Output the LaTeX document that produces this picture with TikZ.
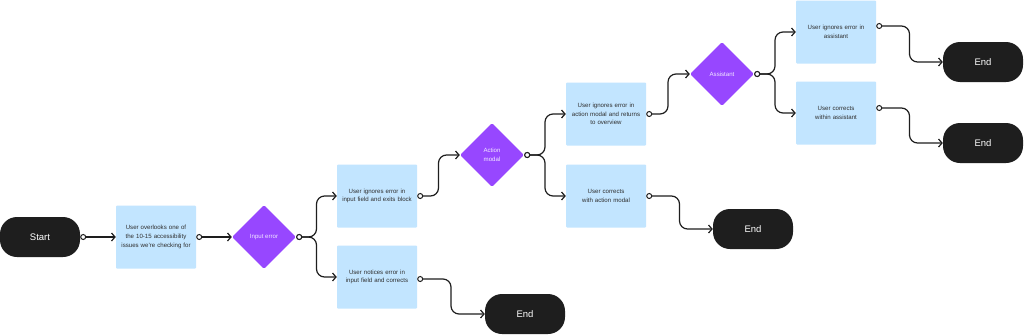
\documentclass[tikz,border=0pt]{standalone}
\usepackage{fontspec}
\setmainfont{Liberation Sans}
\usetikzlibrary{arrows.meta,positioning,calc,shapes.geometric}
\definecolor{taskblue}{HTML}{C2E5FF}
\definecolor{choicepurple}{HTML}{9747FF}
\definecolor{termblack}{HTML}{1E1E1E}
\definecolor{tasktext}{HTML}{2E2E2E}
\begin{document}
\begin{tikzpicture}[x=1pt,y=-1pt,
  term/.style={fill=termblack,rounded corners=17pt,minimum width=80pt,minimum height=40pt,text=white,font=\fontsize{9.5}{10}\selectfont},
  task/.style={fill=taskblue,rounded corners=1pt,minimum width=80pt,minimum height=63pt,text width=78pt,inner sep=1pt,align=center,text=tasktext,font=\fontsize{6.1}{8.8}\selectfont},
  choice/.style={diamond,aspect=1,fill=choicepurple,rounded corners=1.5pt,minimum width=64pt,minimum height=64pt,inner sep=0pt,align=center,text=white!88!choicepurple,font=\fontsize{6.1}{8.8}\selectfont},
  flow/.style={draw=termblack,line width=1.2pt,rounded corners=8pt,{Circle[open,fill=white,length=6pt,width=6pt,line width=1pt]}-{Straight Barb[length=3.5pt,width=8pt,line width=1.2pt]}}]
\useasboundingbox[fill=white] (0,0) rectangle (1024,335);
% nodes
\node[term] (start) at (40,237) {Start};
\node[task] (over) at (156,237) {User overlooks one of\\the 10-15 accessibility\\issues we’re checking for};
\node[choice] (input) at (264,237) {Input error};
\node[task] (ignfield) at (377,196) {User ignores error in\\input field and exits block};
\node[task] (fixfield) at (377,277) {User notices error in\\input field and corrects};
\node[term] (end1) at (525,314) {End};
\node[choice] (action) at (492,155) {Action\\modal};
\node[task] (ignmodal) at (606,114) {User ignores error in\\action modal and returns\\to overview};
\node[task] (fixmodal) at (606,196) {User corrects\\with action modal};
\node[term] (end2) at (753,229) {End};
\node[choice] (assist) at (722,74) {Assistant};
\node[task] (ignassist) at (836,32) {User ignores error in\\assistant};
\node[task] (fixassist) at (836,113) {User corrects\\within assistant};
\node[term] (end3) at (983,62) {End};
\node[term] (end4) at (983,143) {End};
% connectors
\draw[flow] (start.east) -- (over.west);
\draw[flow] (over.east) -- (input.west);
\draw[flow] (input.east) -| ($(input.east)!.5!(ignfield.west)$) |- (ignfield.west);
\draw[flow] (input.east) -| ($(input.east)!.5!(fixfield.west)$) |- (fixfield.west);
\draw[flow] ([yshift=-2pt]fixfield.east) -| ($(fixfield.east)!.5!(end1.west)$) |- (end1.west);
\draw[flow] (ignfield.east) -| ($(ignfield.east)!.5!(action.west)$) |- (action.west);
\draw[flow] (action.east) -| ($(action.east)!.5!(ignmodal.west)$) |- (ignmodal.west);
\draw[flow] (action.east) -| ($(action.east)!.5!(fixmodal.west)$) |- (fixmodal.west);
\draw[flow] (fixmodal.east) -| ($(fixmodal.east)!.5!(end2.west)$) |- (end2.west);
\draw[flow] (ignmodal.east) -| ($(ignmodal.east)!.5!(assist.west)$) |- (assist.west);
\draw[flow] (assist.east) -| ($(assist.east)!.5!(ignassist.west)$) |- (ignassist.west);
\draw[flow] (assist.east) -| ($(assist.east)!.5!(fixassist.west)$) |- (fixassist.west);
\draw[flow] ([yshift=6pt]ignassist.east) -| ($(ignassist.east)!.5!(end3.west)$) |- (end3.west);
\draw[flow] ([yshift=5pt]fixassist.east) -| ($(fixassist.east)!.5!(end4.west)$) |- (end4.west);
\end{tikzpicture}
\end{document}
